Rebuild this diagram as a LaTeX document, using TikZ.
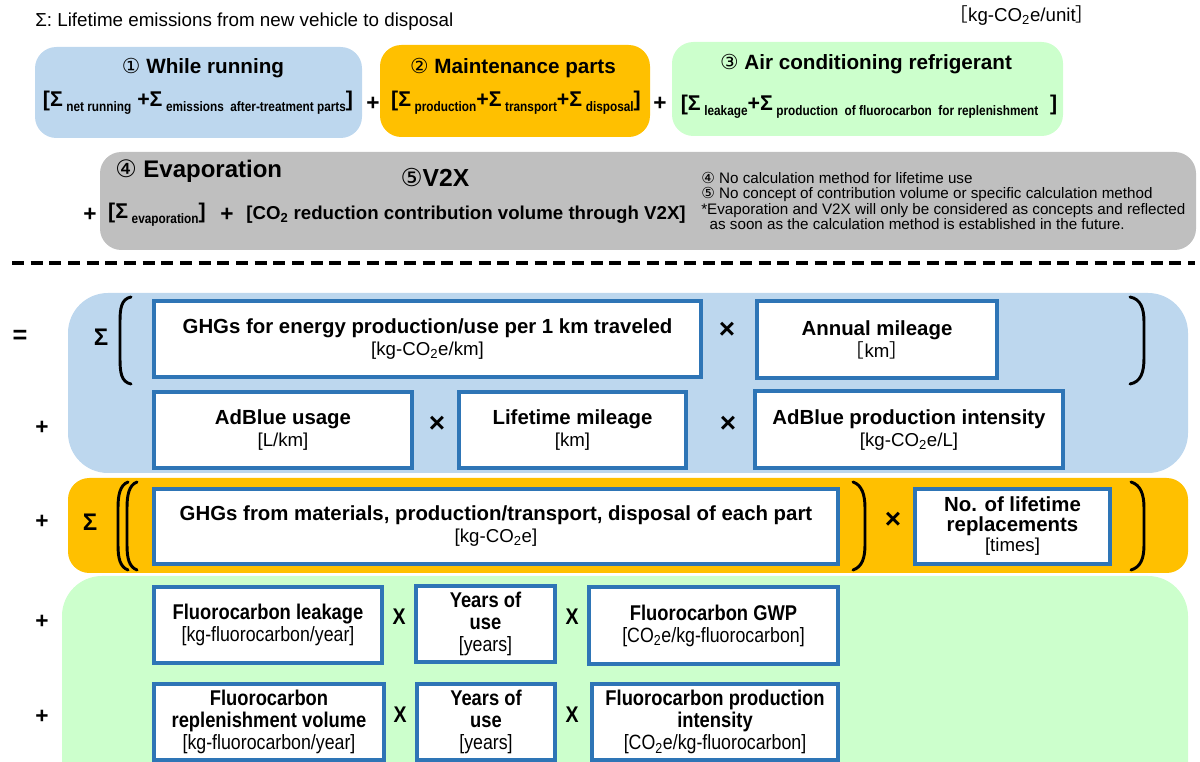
\documentclass[tikz,border=0pt]{standalone}
\usepackage{fontspec}
\setmainfont{Liberation Sans}
\newfontfamily\dv{DejaVu Sans}
\newfontfamily\nar[FakeStretch=0.86]{Liberation Sans}
\newfontfamily\cjk{Noto Sans CJK JP}
\definecolor{bgblue}{HTML}{BDD7EE}
\definecolor{bgorange}{HTML}{FFC000}
\definecolor{bggreen}{HTML}{CCFFCC}
\definecolor{bggray}{HTML}{BFBFBF}
\definecolor{boxblue}{HTML}{2E75B6}
\newcommand\sbs[1]{\raisebox{-0.45ex}{\nar\fontsize{10.3}{10.3}\selectfont #1}}
\newcommand\bl[1]{{\bfseries\fontsize{15.3}{16.5}\selectfont #1}}
\newcommand\ul[1]{{\fontsize{14}{16.5}\selectfont #1}}
\newcommand\gbl[1]{{\nar\bfseries\fontsize{16}{16.5}\selectfont #1}}
\newcommand\gul[1]{{\nar\fontsize{15.5}{16.5}\selectfont #1}}
\begin{document}
\begin{tikzpicture}[x=0.75pt,y=-0.75pt,
  wh/.style 2 args={minimum width=#1*0.75pt,minimum height=#2*0.75pt},
  vbox/.style={draw=boxblue,line width=3pt,fill=white,align=center,inner sep=0pt,font=\fontsize{14}{16.5}\selectfont},
  op/.style={font=\fontsize{17}{17}\selectfont\bfseries,inner sep=0pt},
  xop/.style={font=\fontsize{21}{21}\selectfont\bfseries,inner sep=0pt},
  gop/.style={font=\nar\fontsize{17}{17}\selectfont\bfseries,inner sep=0pt},
  fml/.style={font=\fontsize{16}{16}\selectfont\bfseries,inner sep=0pt},
  ttl/.style={font=\fontsize{15.5}{17}\selectfont\bfseries,inner sep=0pt},
  paren/.style={line width=2.2pt,line cap=round}]
\useasboundingbox (0,0) rectangle (1200,762);
\clip (0,0) rectangle (1200,762);
% header
\node[anchor=west,inner sep=0pt,font=\fontsize{14.1}{15}\selectfont] (hdr) at (35,22) {Σ: Lifetime emissions from new vehicle to disposal};
\node[inner sep=0pt,font=\fontsize{14}{15}\selectfont] (unit) at (1022,16) {{\cjk ［}kg-CO\textsubscript{2}e/unit{\cjk ］}};
% top boxes
\fill[bgblue,rounded corners=16] (35,47) rectangle (362,138);
\fill[bgorange,rounded corners=16] (380,45) rectangle (650,137);
\fill[bggreen,rounded corners=16] (672,42) rectangle (1063,136);
\node[ttl] (t1) at (203,68) {{\dv\mdseries ①} While running};
\node[ttl] (t2) at (513,68) {{\dv\mdseries ②} Maintenance parts};
\node[ttl] (t3) at (866,64) {{\dv\mdseries ③} Air conditioning refrigerant};
\node[fml] (f1) at (198,103) {[Σ\,\sbs{net running} +Σ\,\sbs{emissions\ \ after-treatment parts}]};
\node[op] (p1) at (373,104) {+};
\node[fml] (f2) at (516,103) {[Σ\,\sbs{production}+Σ\,\sbs{transport}+Σ\,\sbs{disposal}]};
\node[op] (p2) at (660,104) {+};
\node[fml] (f3) at (869,107) {[Σ\,\sbs{leakage}+Σ\,\sbs{production\ \ of fluorocarbon\ \ for replenishment}\ \ ]};
% gray box
\fill[bggray,rounded corners=16] (100,152) rectangle (1196,250);
\node[anchor=west,inner sep=0pt,font=\fontsize{18}{19}\selectfont\bfseries] (t4) at (115,171) {{\dv\mdseries ④} Evaporation};
\node[inner sep=0pt,font=\fontsize{18.5}{19}\selectfont\bfseries] (t5) at (435,178) {{\dv\mdseries ⑤}V2X};
\node[op] (p3) at (90,215) {+};
\node[fml] (f4) at (157,215) {[Σ\,\sbs{evaporation}]};
\node[op] (p4) at (227,215) {+};
\node[inner sep=0pt,font=\fontsize{14}{14}\selectfont\bfseries] (f5) at (466,215) {[CO\textsubscript{2} reduction contribution volume through V2X]};
\node[anchor=north west,inner sep=0pt,align=left,font=\fontsize{11.4}{11.6}\selectfont] (notes) at (701,172)
 {{\dv ④} No calculation method for lifetime use\\
  {\dv ⑤} No concept of contribution volume or specific calculation method\\
  *Evaporation and V2X will only be considered as concepts and reflected\\
  \ \ as soon as the calculation method is established in the future.};
% dashed separator
\draw[line width=2.4pt,dash pattern=on 9pt off 5pt] (12,263) -- (1195,263);
% lower backgrounds
\fill[bgblue,rounded corners=30] (68,293) rectangle (1188,473);
\fill[bgorange,rounded corners=16] (68,478) rectangle (1188,573);
\fill[bggreen,rounded corners=30] (62,576) rectangle (1188,820);
% row 1
\node[op,font=\fontsize{19}{19}\selectfont\bfseries] (eq) at (20,337) {=};
\node[op,font=\fontsize{18}{18}\selectfont\bfseries] (s1) at (101,337) {Σ};
\draw[paren] (131,297) .. controls (121,299) and (120,309) .. (120,322) -- (120,358) .. controls (120,372) and (121,382) .. (131,384);
\draw[paren] (1130,297) .. controls (1141,299) and (1144,309) .. (1144,322) -- (1144,358) .. controls (1144,372) and (1141,382) .. (1130,384);
\node[vbox,wh={547}{76}] (A) at (427.5,339) {\bl{GHGs for energy production/use per 1 km traveled}\\\ul{[kg-CO\textsubscript{2}e/km]}};
\node[xop] (x1) at (727,330) {×};
\node[vbox,wh={240}{77}] (B) at (877,339.5) {\bl{Annual mileage}\\\ul{{\cjk ［}km{\cjk ］}}};
% row 2
\node[op] (pl1) at (42,428) {+};
\node[vbox,wh={258}{76}] (C) at (283,430) {\bl{AdBlue usage}\\\ul{[L/km]}};
\node[xop] (x2) at (437,424) {×};
\node[vbox,wh={227}{76}] (D) at (572.5,430) {\bl{Lifetime mileage}\\\ul{[km]}};
\node[xop] (x3) at (728,424) {×};
\node[vbox,wh={308}{77}] (E) at (909,430) {\bl{AdBlue production intensity}\\\ul{[kg-CO\textsubscript{2}e/L]}};
% orange row
\node[op] (pl2) at (42,522) {+};
\node[op,font=\fontsize{18}{18}\selectfont\bfseries] (s2) at (90,522) {Σ};
\draw[paren] (128,482) .. controls (120,485) and (118,495) .. (118,508) -- (118,545) .. controls (118,558) and (120,567) .. (128,570);
\draw[paren] (137,482) .. controls (129,485) and (127,495) .. (127,508) -- (127,545) .. controls (127,558) and (129,567) .. (137,570);
\node[vbox,wh={684}{75}] (F) at (496,526.5) {\bl{GHGs from materials, production/transport, disposal of each part}\\\ul{[kg-CO\textsubscript{2}e]}};
\draw[paren] (853,482) .. controls (862,485) and (865,495) .. (865,508) -- (865,545) .. controls (865,558) and (862,567) .. (853,570);
\node[xop] (x4) at (893,520) {×};
\node[vbox,wh={195}{75},font=\fontsize{14}{15}\selectfont] (G) at (1012.5,526.5) {\bl{No. of lifetime}\\\bl{replacements}\\\ul{[times]}};
\draw[paren] (1131,482) .. controls (1141,485) and (1144,495) .. (1144,508) -- (1144,545) .. controls (1144,558) and (1141,567) .. (1131,570);
% green rows
\node[op] (pl3) at (42,622) {+};
\node[vbox,wh={228}{76}] (H) at (268,625) {\gbl{Fluorocarbon leakage}\\\gul{[kg-fluorocarbon/year]}};
\node[gop] (x5) at (399,617) {X};
\node[vbox,wh={139}{76}] (I) at (485.5,624) {\gbl{Years of}\\\gbl{use}\\\gul{[years]}};
\node[gop] (x6) at (572,617) {X};
\node[vbox,wh={249}{77}] (J) at (713.5,625.5) {\gbl{Fluorocarbon GWP}\\\gul{[CO\textsubscript{2}e/kg-fluorocarbon]}};
\node[op] (pl4) at (42,717) {+};
\node[vbox,wh={230}{76}] (K) at (269,722) {\gbl{Fluorocarbon}\\\gbl{replenishment volume}\\\gul{[kg-fluorocarbon/year]}};
\node[gop] (x7) at (400,715) {X};
\node[vbox,wh={138}{76}] (L) at (486,722) {\gbl{Years of}\\\gbl{use}\\\gul{[years]}};
\node[gop] (x8) at (572,715) {X};
\node[vbox,wh={246}{76}] (M) at (715,722) {\gbl{Fluorocarbon production}\\\gbl{intensity}\\\gul{[CO\textsubscript{2}e/kg-fluorocarbon]}};
\end{tikzpicture}
\end{document}
